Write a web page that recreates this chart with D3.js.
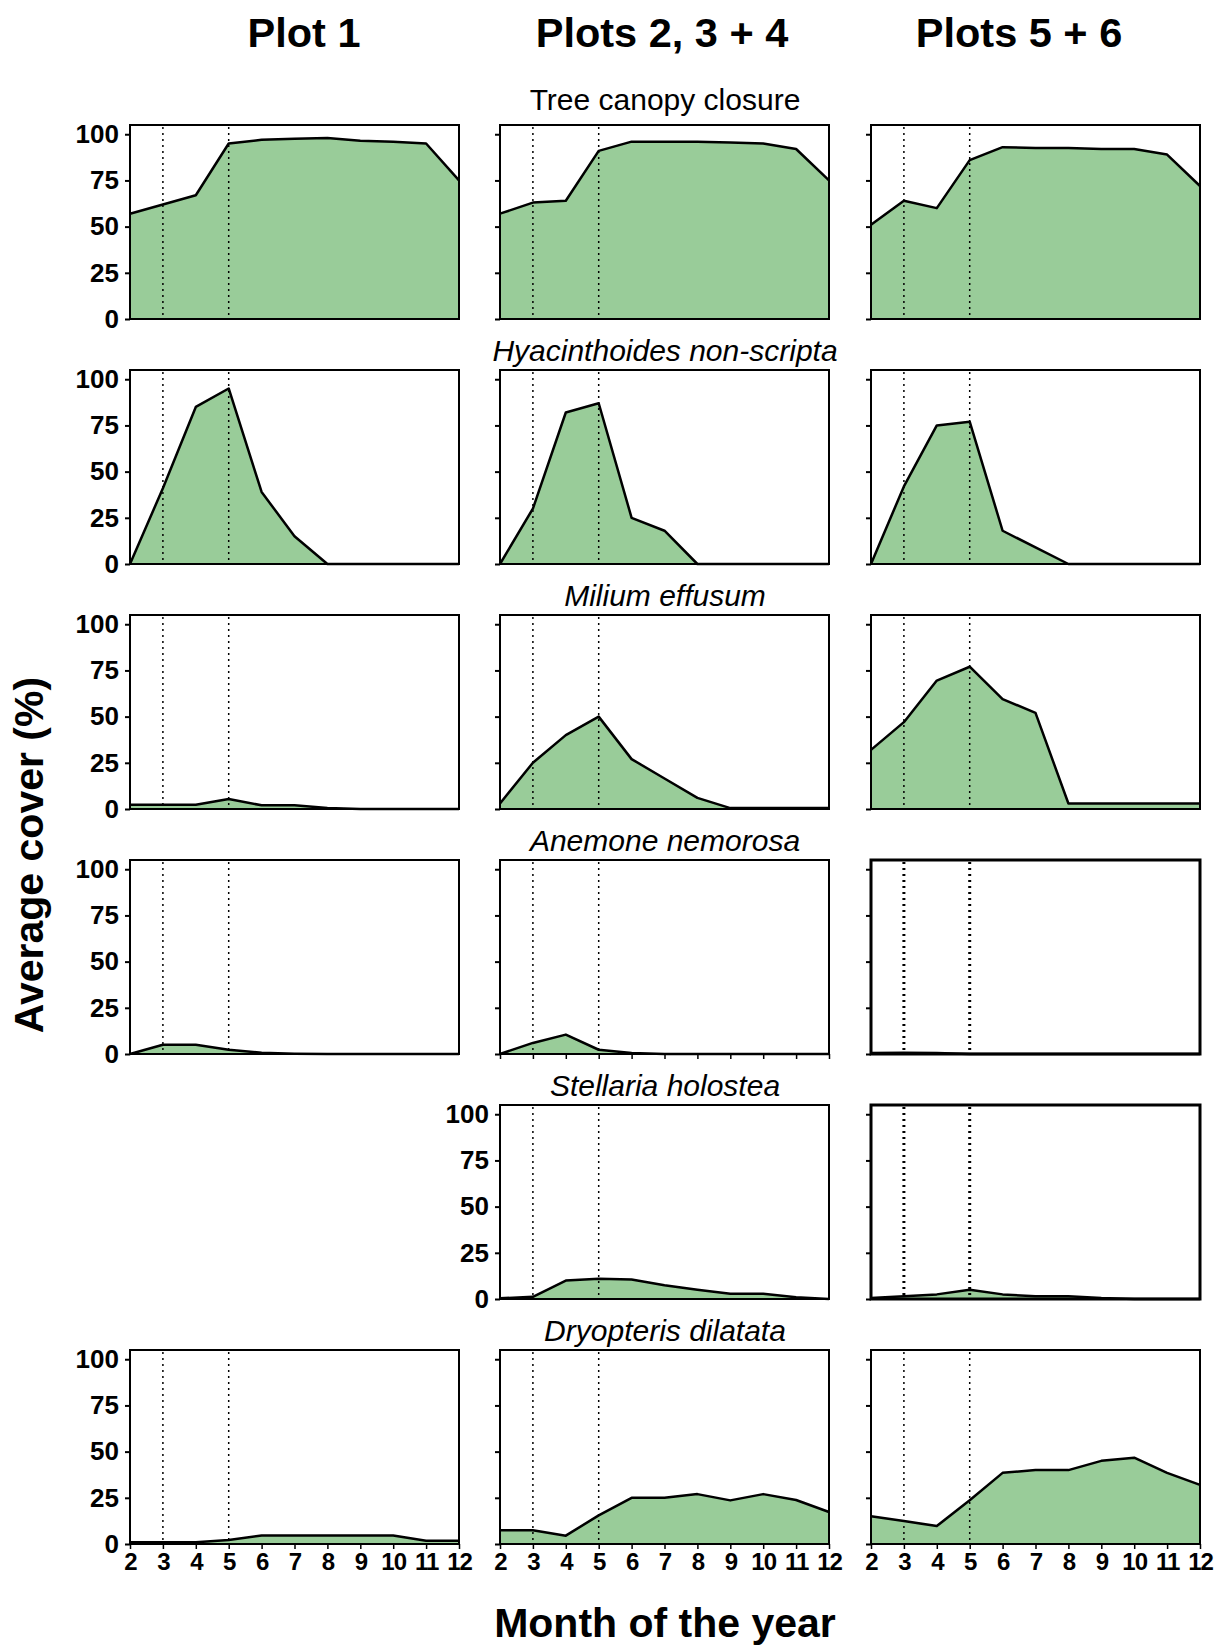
<!DOCTYPE html>
<html>
<head>
<meta charset="utf-8">
<script src="https://cdn.jsdelivr.net/npm/d3@7"></script>
<style>
    body { margin: 0; background: #fff; }
    svg text { font-family: "Liberation Sans", Arial, sans-serif; fill: #000; }
    .col-head { font-size: 41.5px; font-weight: bold; }
    .axis-title { font-size: 41px; font-weight: bold; }
    .row-title { font-size: 30px; }
    .y-label { font-size: 26px; font-weight: bold; }
    .x-label { font-size: 24px; font-weight: bold; letter-spacing: -1px; }
    .area { fill: #99cc99; }
    .cover-line { fill: none; stroke: #000; stroke-width: 2.5; stroke-linejoin: round; }
    .frame { fill: none; stroke: #000; stroke-width: 2; }
    .marker-line { stroke: #000; stroke-width: 1.5; stroke-dasharray: 2,4; }
</style>
</head>
<body>
<div id="chart"></div>
<script>
// months on the x axis, and the two dotted reference months
var months = [2, 3, 4, 5, 6, 7, 8, 9, 10, 11, 12];
var markerMonths = [3, 5];
var yTicks = [0, 25, 50, 75, 100];

var plotNames = ["Plot 1", "Plots 2, 3 + 4", "Plots 5 + 6"];
var rowTitles = ["Tree canopy closure", "Hyacinthoides non-scripta", "Milium effusum",
    "Anemone nemorosa", "Stellaria holostea", "Dryopteris dilatata"];

// average cover (%) per month, one array per plot group
var canopy = [
    [57, 62, 67, 95, 97, 97.5, 98, 96.5, 96, 95, 75],
    [57, 63, 64, 91, 96, 96, 96, 95.5, 95, 92, 75],
    [51, 64, 60, 86, 93, 92.5, 92.5, 92, 92, 89, 72]
];
var hyacinthoides = [
    [0, 41, 85, 95, 39, 15, 0, 0, 0, 0, 0],
    [0, 30, 82, 87, 25, 18, 0, 0, 0, 0, 0],
    [0, 42, 75, 77, 18, 9, 0, 0, 0, 0, 0]
];
var milium = [
    [2.3, 2.3, 2.3, 5.4, 2, 2, 0.5, 0, 0, 0, 0],
    [3, 25, 40, 50, 27, 16.5, 6, 0.5, 0.5, 0.5, 0.5],
    [32, 47, 69.5, 77, 59.5, 52, 3, 3, 3, 3, 3]
];
var anemone = [
    [0, 5, 5, 2.3, 0.7, 0.2, 0, 0, 0, 0, 0],
    [0, 6, 10.5, 2.3, 0.5, 0, 0, 0, 0, 0, 0],
    [0.5, 0.7, 0.5, 0, 0, 0, 0, 0, 0, 0, 0]
];
var stellaria = [
    null,
    [0.4, 1.2, 10, 11, 10.5, 7.5, 5, 2.8, 2.8, 1, 0],
    [0.5, 1.5, 2.5, 5, 2.5, 1.5, 1.5, 0.5, 0, 0, 0]
];
var dryopteris = [
    [1, 1, 1, 2.2, 4.6, 4.6, 4.6, 4.6, 4.6, 1.8, 1.8],
    [7.4, 7.4, 4.5, 15.5, 25, 25, 27, 23.6, 27, 23.8, 17.3],
    [15, 12.4, 9.7, 23.7, 38.5, 40, 40, 45, 46.7, 38.5, 32]
];
var rows = [canopy, hyacinthoides, milium, anemone, stellaria, dryopteris];

var width = 1216, height = 1645;
var colX = [130, 500, 871];
var panelW = 329, panelH = 194;
var rowTop0 = 125, rowStep = 245;

var svg = d3.select("#chart").append("svg")
    .attr("width", width)
    .attr("height", height);

// titles get cut where the right-hand panel begins, as in the original
svg.append("defs").append("clipPath")
    .attr("id", "title-clip")
    .append("rect")
    .attr("x", 0).attr("y", 0)
    .attr("width", 840).attr("height", height);

var x = d3.scaleLinear().domain([2, 12]).range([0, panelW]);
var y = d3.scaleLinear().domain([0, 105]).range([panelH, 0]);

var area = d3.area()
    .x(function(d) { return x(d.month); })
    .y0(panelH)
    .y1(function(d) { return y(d.value); });
var line = d3.line()
    .x(function(d) { return x(d.month); })
    .y(function(d) { return y(d.value); });

// column headers
svg.append("g").selectAll("text")
    .data(plotNames)
    .enter().append("text")
    .attr("class", "col-head")
    .attr("text-anchor", "middle")
    .attr("x", function(d, i) { return [304, 662, 1019][i]; })
    .attr("y", 47)
    .text(function(d) { return d; });

// row titles
svg.append("g")
    .attr("clip-path", "url(#title-clip)")
    .selectAll("text")
    .data(rowTitles)
    .enter().append("text")
    .attr("class", "row-title")
    .attr("text-anchor", "middle")
    .attr("x", 665)
    .attr("y", function(d, i) { return rowTop0 + i * rowStep - (i === 0 ? 15 : 9); })
    .style("font-style", function(d, i) { return i === 0 ? "normal" : "italic"; })
    .text(function(d) { return d; });

rows.forEach(function(series, r) {
    series.forEach(function(values, c) {
        if (!values) return;
        var heavy = (c === 2 && (r === 3 || r === 4));
        var g = svg.append("g")
            .attr("transform", "translate(" + [colX[c], rowTop0 + r * rowStep] + ")");
        var pts = months.map(function(m, i) { return { month: m, value: values[i] }; });

        g.append("path")
            .datum(pts)
            .attr("class", "area")
            .attr("d", area);

        g.selectAll(".marker-line")
            .data(markerMonths)
            .enter().append("line")
            .attr("class", "marker-line")
            .attr("x1", function(d) { return x(d); })
            .attr("x2", function(d) { return x(d); })
            .attr("y1", 2)
            .attr("y2", panelH)
            .style("stroke-width", heavy ? 3 : 1.5);

        g.append("path")
            .datum(pts)
            .attr("class", "cover-line")
            .attr("d", line);

        g.append("rect")
            .attr("class", "frame")
            .attr("width", panelW)
            .attr("height", panelH)
            .style("stroke-width", heavy ? 3 : 2);

        // y axis: labels only where there is no panel to the left
        var showY = (c === 0) || (c === 1 && !series[0]);
        var yAxis = d3.axisLeft(y)
            .tickValues(yTicks)
            .tickSize(5)
            .tickPadding(6)
            .tickFormat(showY ? d3.format("d") : "");
        var yg = g.append("g").call(yAxis);
        yg.select(".domain").remove();
        yg.selectAll("line").attr("stroke-width", 2);
        yg.selectAll("text")
            .attr("class", "y-label")
            .attr("font-size", null)
            .attr("font-family", null);

        // x axis on the bottom row, plus the stray ticks under Anemone / plots 2-4
        if (r === rows.length - 1 || (r === 3 && c === 1)) {
            var xAxis = d3.axisBottom(x)
                .tickValues(months)
                .tickSize(5)
                .tickPadding(4)
                .tickFormat(r === rows.length - 1 ? d3.format("d") : "");
            var xg = g.append("g")
                .attr("transform", "translate(0," + panelH + ")")
                .call(xAxis);
            xg.select(".domain").remove();
            xg.selectAll("line").attr("stroke-width", 1.5);
            xg.selectAll("text")
                .attr("class", "x-label")
                .attr("font-size", null)
                .attr("font-family", null);
        }
    });
});

// axis titles
svg.append("text")
    .attr("class", "axis-title")
    .attr("text-anchor", "middle")
    .attr("transform", "translate(43,855) rotate(-90)")
    .text("Average cover (%)");

svg.append("text")
    .attr("class", "axis-title")
    .attr("text-anchor", "middle")
    .attr("x", 665)
    .attr("y", 1637)
    .text("Month of the year");
</script>
</body>
</html>
